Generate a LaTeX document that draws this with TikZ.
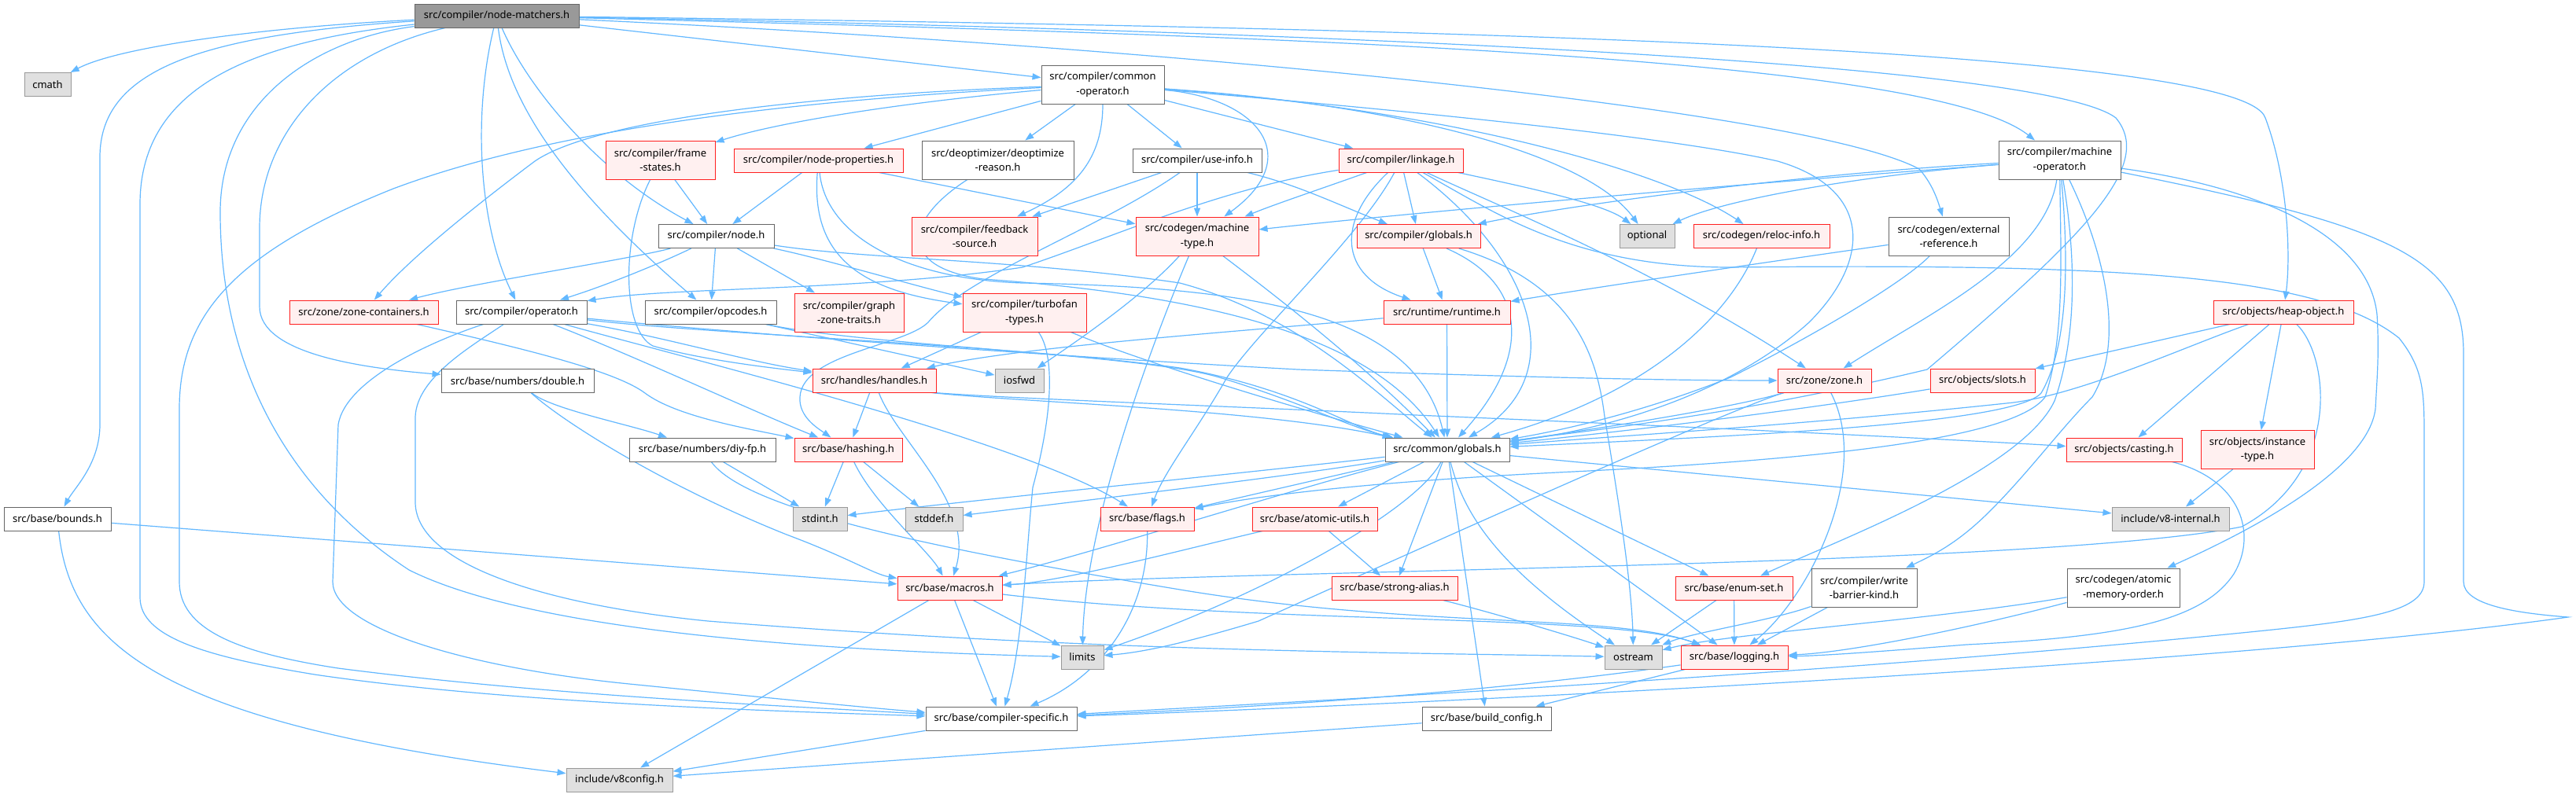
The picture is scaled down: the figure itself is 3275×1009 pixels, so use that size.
\documentclass[tikz,border=0pt]{standalone}
\usepackage{fontspec}
\setmainfont{Noto Sans}
\usetikzlibrary{arrows.meta}
\definecolor{edgec}{HTML}{63B8FF}
\definecolor{redb}{HTML}{FF2020}
\definecolor{redf}{HTML}{FFF0F0}
\definecolor{sysf}{HTML}{E0E0E0}
\definecolor{sysb}{HTML}{999999}
\definecolor{whtb}{HTML}{666666}
\pgfdeclarelayer{bgfill}
\pgfdeclarelayer{edges}
\pgfsetlayers{bgfill,edges,main}
\newcommand\nb[6]{\node[#1, minimum width=#4pt, minimum height=#5pt] (#2) at (#3) {#6};}
\begin{document}
\begin{tikzpicture}[x=1pt,y=-1pt,
  box/.style={rectangle, inner sep=0pt, line width=1pt, align=center, font=\fontsize{13}{18.6}\selectfont},
  root/.style={box, draw=whtb, fill=sysb},
  sys/.style={box, draw=sysb, fill=sysf},
  wht/.style={box, draw=whtb, fill=white},
  red/.style={box, draw=redb, fill=redf},
  e/.style={draw=edgec, line width=1.2pt, -{Triangle[length=11pt,width=8pt]}, fill=none}]
\begin{pgfonlayer}{bgfill}
\fill[white] (0,0) rectangle (3275,1009);
\end{pgfonlayer}
\useasboundingbox (0,0) rectangle (3275,1009);
% nodes
\nb{root}{nm}{631.5,20}{209}{30}{src/compiler/node-matchers.h}
\nb{sys}{cmath}{60.5,107.5}{59}{30}{cmath}
\nb{wht}{bounds}{73,660}{136}{30}{src/base/bounds.h}
\nb{wht}{co}{1402,107.5}{156}{49}{src/compiler/common\\-operator.h}
\nb{wht}{mo}{2618.5,203.5}{155}{49}{src/compiler/machine\\-operator.h}
\nb{red}{heap}{2903,397}{178}{30}{src/objects/heap-object.h}
\nb{red}{fs}{839.5,203.5}{139}{49}{src/compiler/frame\\-states.h}
\nb{red}{np}{1040.5,204}{215}{30}{src/compiler/node-properties.h}
\nb{wht}{dr}{1268.5,203.5}{193}{49}{src/deoptimizer/deoptimize\\-reason.h}
\nb{wht}{ui}{1522,204}{164}{30}{src/compiler/use-info.h}
\nb{red}{link}{1781,204}{158}{30}{src/compiler/linkage.h}
\nb{wht}{node}{910.5,300.5}{147}{30}{src/compiler/node.h}
\nb{red}{fb}{1239,300.5}{160}{49}{src/compiler/feedback\\-source.h}
\nb{red}{mt}{1522,300.5}{156}{49}{src/codegen/machine\\-type.h}
\nb{red}{cg}{1803.5,300.5}{157}{30}{src/compiler/globals.h}
\nb{sys}{opt}{2094,300.5}{70}{30}{optional}
\nb{red}{reloc}{2239.5,300.5}{173}{30}{src/codegen/reloc-info.h}
\nb{wht}{ext}{2477.5,300.5}{153}{49}{src/codegen/external\\-reference.h}
\nb{red}{zc}{462.5,397}{189}{30}{src/zone/zone-containers.h}
\nb{wht}{op}{663,397}{166}{30}{src/compiler/operator.h}
\nb{wht}{opc}{903.5,397}{167}{30}{src/compiler/opcodes.h}
\nb{red}{gzt}{1079.5,397.5}{139}{49}{src/compiler/graph\\-zone-traits.h}
\nb{red}{tt}{1302.5,397.5}{157}{49}{src/compiler/turbofan\\-types.h}
\nb{red}{rt}{1839.5,397}{161}{30}{src/runtime/runtime.h}
\nb{wht}{dbl}{658,484.5}{194}{30}{src/base/numbers/double.h}
\nb{red}{hd}{1111.5,484}{157}{30}{src/handles/handles.h}
\nb{sys}{iosfwd}{1296,484}{62}{30}{iosfwd}
\nb{red}{zone}{2319.5,484}{119}{30}{src/zone/zone.h}
\nb{red}{slots}{2520.5,484}{133}{30}{src/objects/slots.h}
\nb{wht}{diy}{893,572}{186}{30}{src/base/numbers/diy-fp.h}
\nb{red}{hash}{1078.5,572}{137}{30}{src/base/hashing.h}
\nb{wht}{glob}{1840,572}{158}{30}{src/common/globals.h}
\nb{red}{cast}{2700.5,572}{147}{30}{src/objects/casting.h}
\nb{red}{it}{2870,572}{144}{49}{src/objects/instance\\-type.h}
\nb{sys}{stdint}{1042.5,660}{69}{30}{stdint.h}
\nb{sys}{stddef}{1187.5,660}{73}{30}{stddef.h}
\nb{red}{flags}{1458.5,660}{119}{30}{src/base/flags.h}
\nb{red}{au}{1671.5,660}{159}{30}{src/base/atomic-utils.h}
\nb{sys}{v8i}{2759.5,660}{149}{30}{include/v8-internal.h}
\nb{red}{macros}{1207.5,748}{133}{30}{src/base/macros.h}
\nb{red}{sa}{1773,748}{160}{30}{src/base/strong-alias.h}
\nb{red}{es}{2204.5,748}{149}{30}{src/base/enum-set.h}
\nb{wht}{wbk}{2370,747.5}{134}{49}{src/compiler/write\\-barrier-kind.h}
\nb{wht}{amo}{2699.5,747.5}{143}{49}{src/codegen/atomic\\-memory-order.h}
\nb{sys}{limits}{1376,836}{54}{30}{limits}
\nb{sys}{ostream}{2076.5,836}{73}{30}{ostream}
\nb{red}{log}{2205,836}{136}{30}{src/base/logging.h}
\nb{wht}{cs}{1273,914}{192}{30}{src/base/compiler-specific.h}
\nb{wht}{bc}{1890,914}{164}{30}{src/base/build\_config.h}
\nb{sys}{v8c}{787.5,992}{135}{30}{include/v8config.h}
\begin{pgfonlayer}{edges}
% node-matchers
\draw[e] (nm) .. controls (330,35) and (150,60) .. (cmath);
\draw[e] (nm) .. controls (250,45) and (127,90) .. (127,200) -- (127,540) .. controls (127,590) and (95,620) .. (bounds);
\draw[e] (nm) .. controls (300,55) and (178,120) .. (178,260) -- (178,760) .. controls (178,810) and (260,835) .. (400,858) .. controls (650,895) and (1000,905) .. (cs);
\draw[e] (nm) .. controls (400,50) and (280,130) .. (280,270) .. controls (280,460) and (360,620) .. (520,725) .. controls (700,815) and (1150,830) .. (limits);
\draw[e] (nm) .. controls (420,70) and (330,170) .. (330,290) -- (330,390) .. controls (330,450) and (460,468) .. (dbl);
\draw[e] (nm) .. controls (600,150) and (610,290) .. (op);
\draw[e] (nm) .. controls (645,130) and (720,240) .. (opc);
\draw[e] (nm) .. controls (670,110) and (760,220) .. (node);
\draw[e] (nm) -- (co);
\draw[e] (nm) .. controls (1500,60) and (2300,140) .. (2440,215) .. controls (2455,232) and (2462,250) .. (ext);
\draw[e] (nm) .. controls (1600,45) and (2450,70) .. (mo);
\draw[e] (nm) .. controls (1800,35) and (2850,60) .. (2880,150) .. controls (2910,230) and (2912,330) .. (heap);
\draw[e] (nm) .. controls (1700,40) and (2600,80) .. (2690,150) .. controls (2740,210) and (2650,300) .. (2450,470) .. controls (2200,530) and (2000,550) .. (glob);
% common-operator
\draw[e] (co) .. controls (1050,120) and (760,150) .. (680,205) .. controls (600,265) and (520,330) .. (zc);
\draw[e] (co) .. controls (1000,128) and (700,165) .. (500,240) .. controls (300,320) and (228,400) .. (228,520) -- (228,740) .. controls (228,800) and (300,830) .. (430,850) .. controls (700,885) and (1000,898) .. (cs);
\draw[e] (co) .. controls (1150,130) and (990,155) .. (fs);
\draw[e] (co) -- (np);
\draw[e] (co) -- (dr);
\draw[e] (co) .. controls (1402,200) and (1370,240) .. (fb);
\draw[e] (co) -- (ui);
\draw[e] (co) .. controls (1600,125) and (1660,200) .. (mt);
\draw[e] (co) -- (link);
\draw[e] (co) .. controls (1800,135) and (2020,200) .. (opt);
\draw[e] (co) .. controls (1850,140) and (2120,220) .. (reloc);
\draw[e] (co) .. controls (1900,150) and (2150,180) .. (2260,205) .. controls (2380,240) and (2380,330) .. (2300,410) .. controls (2200,500) and (2050,545) .. (glob);
% machine-operator
\draw[e] (mo) .. controls (2300,220) and (2000,260) .. (cg);
\draw[e] (mo) .. controls (2400,220) and (2200,250) .. (opt);
\draw[e] (mo) .. controls (2200,235) and (1800,270) .. (mt);
\draw[e] (mo) .. controls (2600,330) and (2450,400) .. (zone);
\draw[e] (mo) .. controls (2640,330) and (2640,430) .. (2612,510) .. controls (2570,600) and (2330,690) .. (es);
\draw[e] (mo) .. controls (2680,330) and (2700,440) .. (2660,505) .. controls (2620,545) and (2580,600) .. (2530,650) .. controls (2490,690) and (2460,705) .. (wbk);
\draw[e] (mo) .. controls (2850,235) and (3010,290) .. (3022,400) .. controls (3025,450) and (3022,480) .. (3020,520) .. controls (3010,600) and (2850,680) .. (amo);
\draw[e] (mo) .. controls (3050,290) and (3132,330) .. (3132,450) -- (3132,740) .. controls (3132,770) and (3200,780) .. (3265,785) .. controls (2800,850) and (1700,900) .. (cs);
\draw[e] (mo) .. controls (2620,330) and (2625,430) .. (2600,505) .. controls (2560,560) and (2300,585) .. (2000,600) .. controls (1750,612) and (1600,630) .. (flags);
\draw[e] (mo) .. controls (2630,330) and (2630,440) .. (2595,500) .. controls (2560,540) and (2200,555) .. (glob);
% frame-states, node-properties, deoptimize-reason, use-info
\draw[e] (fs) -- (node);
\draw[e] (fs) .. controls (790,300) and (790,420) .. (830,440) .. controls (900,460) and (1000,470) .. (hd);
\draw[e] (np) -- (node);
\draw[e] (np) .. controls (1030,330) and (1100,370) .. (tt);
\draw[e] (np) -- (mt);
\draw[e] (np) .. controls (1050,300) and (1150,355) .. (1300,360) .. controls (1600,365) and (1800,400) .. (glob);
\draw[e] (dr) .. controls (1150,280) and (1140,340) .. (1250,355) .. controls (1600,380) and (1760,450) .. (glob);
\draw[e] (ui) -- (fb);
\draw[e] (ui) -- (mt);
\draw[e] (ui) .. controls (1650,235) and (1700,260) .. (cg);
\draw[e] (ui) .. controls (1400,290) and (1230,350) .. (1180,410) .. controls (1150,440) and (1020,450) .. (1017,505) .. controls (1015,530) and (1040,545) .. (hash);
% linkage
\draw[e] (link) .. controls (1550,240) and (1420,300) .. (1300,340) .. controls (1100,370) and (850,365) .. (op);
\draw[e] (link) .. controls (1680,240) and (1620,260) .. (mt);
\draw[e] (link) .. controls (1730,300) and (1600,420) .. (1560,480) .. controls (1520,550) and (1480,600) .. (flags);
\draw[e] (link) .. controls (1700,280) and (1700,350) .. (rt);
\draw[e] (link) -- (cg);
\draw[e] (link) .. controls (1950,330) and (2000,480) .. (glob);
\draw[e] (link) .. controls (1900,260) and (2100,340) .. (zone);
\draw[e] (link) .. controls (1950,240) and (2040,260) .. (opt);
\draw[e] (link) .. controls (1900,270) and (2000,340) .. (2200,340) .. controls (2700,335) and (2950,350) .. (3050,430) .. controls (3082,470) and (3082,500) .. (3082,560) -- (3082,740) .. controls (3082,780) and (3000,790) .. (2850,805) .. controls (2300,860) and (1600,895) .. (cs);
% compiler/globals, runtime, reloc, external
\draw[e] (cg) -- (rt);
\draw[e] (cg) .. controls (1940,360) and (1950,450) .. (glob);
\draw[e] (cg) .. controls (2000,360) and (2030,450) .. (2040,530) .. controls (2060,650) and (2075,750) .. (ostream);
\draw[e] (rt) -- (glob);
\draw[e] (rt) .. controls (1600,420) and (1300,440) .. (hd);
\draw[e] (reloc) .. controls (2200,400) and (2100,500) .. (glob);
\draw[e] (ext) .. controls (2200,340) and (2000,370) .. (rt);
\draw[e] (ext) .. controls (2420,360) and (2300,430) .. (2200,480) .. controls (2100,520) and (2000,545) .. (glob);
% node.h
\draw[e] (node) .. controls (850,330) and (780,360) .. (op);
\draw[e] (node) .. controls (800,330) and (600,360) .. (zc);
\draw[e] (node) -- (opc);
\draw[e] (node) -- (gzt);
\draw[e] (node) .. controls (1050,330) and (1150,360) .. (tt);
\draw[e] (node) .. controls (1100,330) and (1300,330) .. (1500,360) .. controls (1650,400) and (1750,500) .. (glob);
% opcodes, turbofan-types, machine-type
\draw[e] (opc) -- (iosfwd);
\draw[e] (opc) .. controls (1100,440) and (1450,450) .. (1550,480) .. controls (1650,510) and (1720,545) .. (glob);
\draw[e] (tt) -- (hd);
\draw[e] (tt) .. controls (1340,450) and (1340,520) .. (1313,620) .. controls (1305,700) and (1300,820) .. (cs);
\draw[e] (tt) .. controls (1450,460) and (1650,520) .. (glob);
\draw[e] (mt) .. controls (1450,380) and (1360,440) .. (iosfwd);
\draw[e] (mt) .. controls (1480,400) and (1380,650) .. (limits);
\draw[e] (mt) .. controls (1600,360) and (1720,450) .. (glob);
% operator.h
\draw[e] (op) .. controls (560,430) and (440,480) .. (430,540) -- (423,740) .. controls (423,800) and (600,850) .. (800,870) .. controls (1000,890) and (1100,900) .. (cs);
\draw[e] (op) .. controls (600,440) and (530,480) .. (528,530) -- (528,640) .. controls (530,720) and (700,770) .. (900,790) .. controls (1400,830) and (1800,830) .. (ostream);
\draw[e] (op) .. controls (850,450) and (1300,560) .. (flags);
\draw[e] (op) .. controls (800,450) and (950,520) .. (hash);
\draw[e] (op) .. controls (900,425) and (1300,440) .. (1500,468) .. controls (1650,495) and (1720,545) .. (glob);
\draw[e] (op) .. controls (850,430) and (950,460) .. (hd);
\draw[e] (op) .. controls (900,420) and (1250,448) .. (1650,470) .. controls (2000,482) and (2150,484) .. (zone);
% zone-containers, double, handles, diy-fp, hashing
\draw[e] (zc) .. controls (650,440) and (780,470) .. (820,500) .. controls (860,530) and (950,545) .. (hash);
\draw[e] (dbl) .. controls (700,520) and (800,540) .. (diy);
\draw[e] (dbl) .. controls (720,540) and (850,620) .. (1000,680) .. controls (1080,710) and (1110,730) .. (macros);
\draw[e] (hd) -- (hash);
\draw[e] (hd) .. controls (1140,560) and (1240,640) .. (macros);
\draw[e] ([xshift=-6pt]hd.south east) .. controls (1300,512) and (1600,520) .. (glob);
\draw[e] ([xshift=-3pt]hd.south east) .. controls (1300,508) and (1600,518) .. (1800,528) .. controls (2200,545) and (2500,560) .. (cast);
\draw[e] (diy) -- (stdint);
\draw[e] (diy) .. controls (950,650) and (1200,700) .. (1500,750) .. controls (1800,800) and (2050,780) .. (log);
\draw[e] (hash) -- (stdint);
\draw[e] (hash) -- (stddef);
\draw[e] (hash) .. controls (1110,640) and (1180,700) .. (macros);
% common/globals
\draw[e] (glob) -- (au);
\draw[e] (glob) -- (sa);
\draw[e] (glob) .. controls (1600,600) and (1200,640) .. (stdint);
\draw[e] (glob) .. controls (1650,605) and (1350,640) .. (stddef);
\draw[e] (glob) -- (flags);
\draw[e] (glob) .. controls (1650,620) and (1400,700) .. (macros);
\draw[e] (glob) .. controls (1800,650) and (1600,760) .. (limits);
\draw[e] (glob) .. controls (1860,650) and (1900,720) .. (ostream);
\draw[e] (glob) -- (log);
\draw[e] (glob) -- (es);
\draw[e] (glob) -- (bc);
\draw[e] (glob) -- (v8i);
% lower nodes
\draw[e] (au) -- (sa);
\draw[e] (au) .. controls (1500,700) and (1350,740) .. (macros);
\draw[e] (macros) -- (limits);
\draw[e] (macros) -- (cs);
\draw[e] (macros) -- (v8c);
\draw[e] (macros) .. controls (1600,795) and (2050,780) .. (log);
\draw[e] (sa) .. controls (1900,780) and (2000,810) .. (ostream);
\draw[e] (flags) .. controls (1460,780) and (1400,860) .. (cs);
\draw[e] (es) -- (ostream);
\draw[e] (es) -- (log);
\draw[e] (wbk) .. controls (2250,790) and (2150,805) .. (ostream);
\draw[e] (wbk) -- (log);
\draw[e] (amo) .. controls (2450,790) and (2200,805) .. (ostream);
\draw[e] (amo) .. controls (2500,800) and (2350,830) .. (log);
\draw[e] (log) -- (bc);
\draw[e] (log) .. controls (1900,880) and (1600,900) .. (cs);
\draw[e] (cs) -- (v8c);
\draw[e] (bc) -- (v8c);
\draw[e] (bounds) -- (macros);
\draw[e] (bounds) .. controls (90,820) and (200,920) .. (v8c);
\draw[e] (cast) .. controls (2850,610) and (2870,680) .. (2840,730) .. controls (2800,790) and (2700,810) .. (2500,820) .. controls (2400,828) and (2320,834) .. (log);
\draw[e] (it) -- (v8i);
\draw[e] (slots) .. controls (2300,520) and (2100,545) .. (glob);
% heap-object
\draw[e] (heap) -- (slots);
\draw[e] (heap) .. controls (2780,440) and (2650,500) .. (2560,512) .. controls (2300,540) and (2050,555) .. (glob);
\draw[e] (heap) -- (cast);
\draw[e] (heap) -- (it);
\draw[e] (heap) .. controls (2960,450) and (2980,600) .. (2850,670) .. controls (2600,720) and (1600,725) .. (macros);
% zone.h
\draw[e] (zone) .. controls (2200,520) and (2000,550) .. (glob);
\draw[e] (zone) .. controls (2200,520) and (1800,700) .. (1600,790) .. controls (1500,820) and (1450,830) .. (limits);
\draw[e] (zone) .. controls (2380,600) and (2300,760) .. (log);
\end{pgfonlayer}
\end{tikzpicture}
\end{document}
